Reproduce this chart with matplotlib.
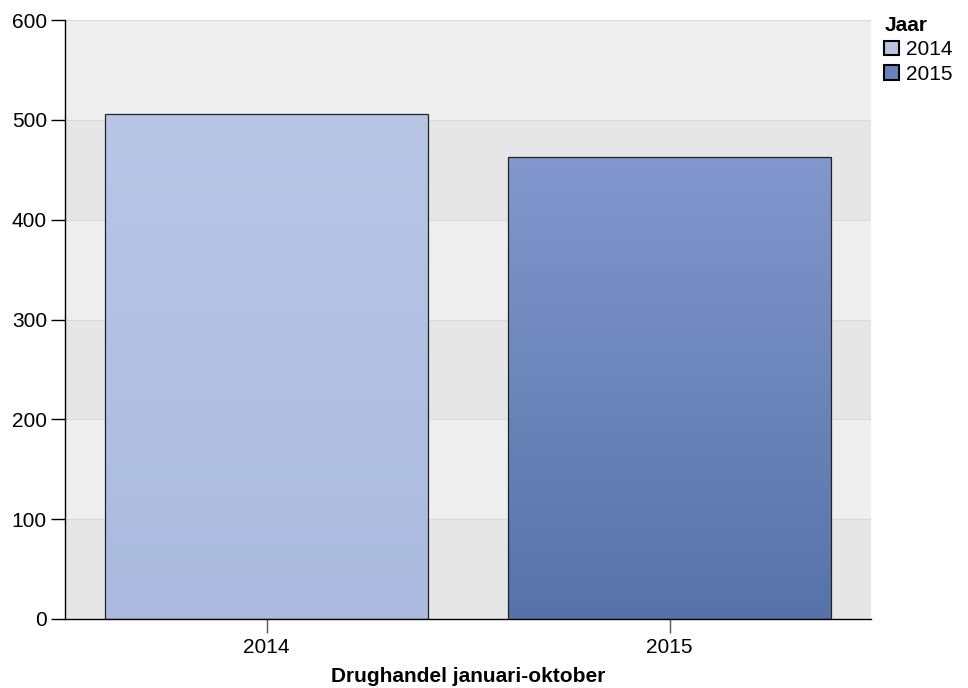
import numpy as np
import matplotlib.pyplot as plt
from matplotlib.colors import LinearSegmentedColormap
from matplotlib.patches import Patch

plt.rcParams['font.family'] = ['Liberation Sans', 'DejaVu Sans']

# data
jaren = ['2014', '2015']
aantallen = [506, 463]
kleur_boven = ['#b8c6e6', '#8297cd']
kleur_onder = ['#abbbdf', '#5673a9']

fig = plt.figure(figsize=(9.68, 6.88), dpi=100)
ax = fig.add_axes([65 / 968, 69 / 688, 806 / 968, 599 / 688])

x = np.arange(len(jaren))

# alternating background bands
for i, y0 in enumerate(range(0, 600, 100)):
    ax.axhspan(y0, y0 + 100, color='#e6e6e6' if i % 2 == 0 else '#efefef', zorder=0, lw=0)
for y in range(100, 601, 100):
    ax.axhline(y, color='#d9d9d9', lw=0.8, zorder=0.5)

bars = ax.bar(x, aantallen, width=0.8, color='none', edgecolor='#222222', linewidth=0.9, zorder=3)
for b, top, bot in zip(bars, kleur_boven, kleur_onder):
    cmap = LinearSegmentedColormap.from_list('g', [bot, top])
    grad = np.linspace(0, 1, 256).reshape(-1, 1)
    bx, by = b.get_x(), b.get_y()
    im = ax.imshow(grad, cmap=cmap, origin='lower', aspect='auto',
                   extent=[bx, bx + b.get_width(), by, by + b.get_height()], zorder=2)
    im.set_clip_path(b)

ax.set_xlim(-0.5, len(jaren) - 0.5)
ax.set_ylim(0, 600)

ax.set_xticks(x)
ax.set_xticklabels(jaren)
ax.set_yticks(range(0, 601, 100))
ax.tick_params(axis='both', labelsize=15, colors='black')
ax.tick_params(axis='x', length=10, color='#555555', width=1, pad=4)
ax.tick_params(axis='y', length=10, width=1, pad=3)
for s in ['top', 'right']:
    ax.spines[s].set_visible(False)
ax.spines['left'].set_linewidth(1)
ax.spines['bottom'].set_linewidth(1)

ax.set_xlabel('Drughandel januari-oktober', fontsize=15, fontweight='bold', labelpad=7)

handles = [Patch(facecolor=c, edgecolor='black', linewidth=1.5) for c in ['#b8c6e6', '#6a82bb']]
leg = fig.legend(handles, jaren, title='Jaar', loc='upper left', bbox_to_anchor=(880 / 968, 1 - 12 / 688),
                 frameon=False, fontsize=15, title_fontsize=15, handlelength=0.7, handleheight=0.7,
                 handletextpad=0.35, labelspacing=0.25, borderaxespad=0, borderpad=0.2)
leg.get_title().set_fontweight('bold')
leg._legend_box.align = 'left'

fig.savefig('out.png', dpi=100)
